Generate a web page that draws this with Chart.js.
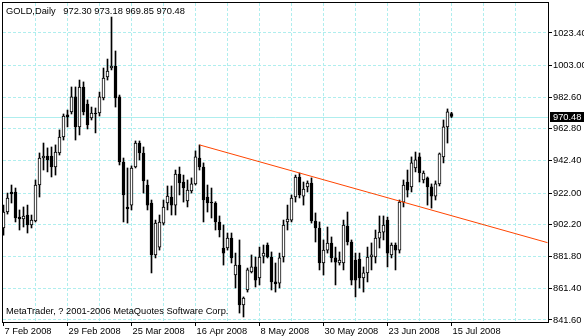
<!DOCTYPE html>
<html>
<head>
<meta charset="utf-8">
<title>GOLD Daily</title>
<script src="https://cdn.jsdelivr.net/npm/chart.js@4.4.1/dist/chart.umd.min.js"></script>
<style>
  html, body { margin: 0; padding: 0; background: #fff; }
  #chart { display: block; }
</style>
</head>
<body>
<canvas id="chart" width="584" height="336"></canvas>
<script>
// GOLD daily candles, 7 Feb 2008 .. 15 Jul 2008 (one entry per bar)
const symbol = 'GOLD';
const period = 'Daily';

const opens = [
    899.9, 910.0, 922.7, 922.7, 906.8, 905.6, 908.1, 901.8, 904.3, 927.1,
    944.2, 945.5, 945.5, 938.5, 947.4, 957.5, 971.5, 973.4, 982.9, 963.9,
    989.2, 978.4, 969.6, 972.7, 972.7, 982.2, 995.5, 1001.2, 1002.5, 982.9,
    941.7, 913.2, 914.4, 938.5, 953.7, 947.4, 927.1, 915.7, 882.8, 887.8,
    903.0, 915.7, 919.5, 914.4, 934.1, 929.0, 917.0, 923.3, 927.8, 944.2,
    938.5, 919.5, 916.3, 915.7, 903.7, 887.2, 887.2, 893.5, 870.1, 876.4,
    851.1, 860.6, 872.0, 875.2, 868.2, 882.1, 889.1, 881.5, 865.7, 865.0,
    881.5, 903.7, 904.9, 919.5, 932.2, 920.1, 925.9, 928.4, 904.3, 899.9,
    877.7, 885.9, 890.4, 880.9, 877.7, 877.7, 901.1, 891.0, 879.6, 880.2,
    868.2, 871.4, 881.5, 881.5, 893.5, 897.3, 904.9, 882.8, 889.1, 885.9,
    916.3, 929.0, 925.9, 937.9, 944.9, 930.3, 931.6, 925.9, 920.1, 927.8,
    944.9, 963.9, 972.30,
];
const highs = [
    914.4, 922.0, 927.1, 925.2, 911.3, 913.2, 914.4, 908.1, 930.3, 947.4,
    953.7, 950.6, 951.2, 952.5, 962.0, 972.1, 974.6, 989.2, 989.2, 993.6,
    992.4, 981.0, 976.5, 975.9, 986.0, 1001.2, 1006.9, 1033.5, 1012.0, 984.1,
    944.2, 937.9, 939.2, 955.0, 955.0, 951.2, 930.3, 917.6, 904.9, 908.1,
    917.6, 926.5, 926.5, 936.6, 938.5, 933.4, 930.3, 931.6, 948.7, 952.5,
    941.1, 927.1, 925.2, 916.5, 907.5, 901.8, 896.7, 896.7, 884.0, 892.3,
    856.2, 874.5, 882.8, 881.5, 887.8, 889.1, 890.4, 884.7, 877.7, 884.0,
    904.9, 914.4, 920.8, 933.4, 934.7, 929.0, 929.7, 931.6, 909.4, 903.7,
    892.3, 900.5, 894.2, 887.8, 884.7, 904.9, 910.0, 892.3, 884.0, 884.0,
    875.2, 887.8, 890.4, 898.6, 907.5, 907.5, 906.8, 890.4, 890.4, 917.6,
    930.3, 936.6, 944.9, 948.0, 947.4, 936.0, 932.2, 927.8, 929.7, 947.4,
    968.3, 975.3, 973.18,
];
const lows = [
    895.4, 908.7, 915.7, 903.7, 898.6, 900.5, 896.7, 899.9, 903.7, 919.5,
    936.6, 935.4, 932.2, 933.4, 946.1, 955.6, 963.9, 972.1, 955.6, 958.8,
    971.5, 962.6, 968.3, 960.1, 970.8, 981.0, 993.6, 1000.0, 976.5, 939.8,
    903.7, 903.0, 911.3, 937.9, 943.0, 922.0, 911.3, 871.4, 880.9, 885.9,
    901.8, 911.3, 908.1, 908.1, 920.8, 916.3, 913.2, 922.0, 927.1, 936.6,
    903.7, 910.0, 906.2, 898.6, 894.2, 876.4, 885.9, 877.7, 861.9, 846.0,
    843.5, 859.3, 871.4, 862.5, 863.8, 877.7, 880.9, 860.6, 859.3, 861.9,
    878.3, 898.6, 903.7, 916.3, 918.9, 914.4, 922.7, 903.0, 891.0, 873.3,
    870.1, 884.0, 878.3, 863.8, 876.4, 873.3, 889.1, 863.8, 856.2, 861.9,
    859.3, 865.7, 873.3, 877.7, 887.2, 892.3, 875.2, 880.9, 873.3, 884.0,
    913.2, 919.5, 922.7, 935.4, 929.0, 928.4, 914.4, 912.5, 917.6, 926.5,
    941.1, 953.7, 969.85,
];
const closes = [
    910.0, 918.9, 921.4, 906.2, 905.6, 907.5, 901.8, 904.9, 927.1, 944.2,
    945.5, 943.0, 938.5, 948.0, 957.5, 970.8, 970.2, 982.9, 963.9, 989.2,
    973.4, 965.1, 972.7, 972.1, 982.9, 994.9, 999.3, 1002.5, 982.2, 941.7,
    920.8, 911.9, 937.9, 953.7, 947.4, 929.7, 914.4, 882.8, 903.0, 903.7,
    913.2, 920.1, 914.4, 934.1, 928.4, 925.2, 923.9, 927.8, 944.9, 938.5,
    917.6, 915.7, 915.7, 903.7, 898.6, 884.0, 893.5, 880.9, 876.4, 851.1,
    855.5, 873.3, 875.2, 866.9, 881.5, 884.0, 881.5, 865.7, 864.4, 880.9,
    901.8, 905.6, 918.9, 932.2, 920.8, 924.6, 928.4, 904.3, 899.9, 877.7,
    885.9, 890.4, 880.9, 878.3, 879.6, 901.8, 891.0, 866.9, 866.9, 868.2,
    871.4, 881.5, 882.8, 893.5, 897.3, 901.8, 884.0, 889.1, 885.9, 916.3,
    927.1, 923.9, 941.1, 943.0, 934.7, 934.7, 925.9, 920.1, 927.8, 946.8,
    963.9, 973.4, 970.48,
];

// x axis: bar index of each date label
const dateTickBars = [0, 16, 32, 48, 64, 80, 96, 112];
const dateTickLabels = ['7 Feb 2008', '29 Feb 2008', '25 Mar 2008', '16 Apr 2008',
    '8 May 2008', '30 May 2008', '23 Jun 2008', '15 Jul 2008'];
const priceTicks = [841.6, 861.4, 881.8, 902.2, 922.0, 942.4, 962.8, 982.6, 1003.0, 1023.4];

// trend line anchors (bar index, price), runs to the right edge
const trendBars = [49, 136];
const trendPrices = [952.5, 890.6];

const GRID_COLOR = '#afeeee';
const TREND_COLOR = '#ff4500';
const FONT = { family: '"Liberation Sans", Arial, sans-serif', size: 9.3 };
const FONT_CSS = '9.3px "Liberation Sans", Arial, sans-serif';

const X_MIN = -0.125;
const X_MAX = 136.125;
const Y_MIN = 840.33;
const Y_MAX = 1042.40;
const GRID_STEP = 8;

const last = closes.length - 1;
const wicks = lows.map((lo, i) => ({ x: i, y: [lo, highs[i]] }));
const bodies = opens.map((o, i) => ({ x: i, y: [o, closes[i]] }));
const bodyFill = opens.map((o, i) => (closes[i] >= o ? '#ffffff' : '#000000'));

const gridTicks = [];
for (let b = 0; b <= X_MAX; b += GRID_STEP) gridTicks.push({ value: b });

const hidden = 'rgba(0,0,0,0)';

// frame, bid line, title, copyright and the last price box
const terminalChrome = {
    id: 'terminalChrome',
    beforeDatasetsDraw(chart) {
        const { ctx, chartArea: a, scales: { y } } = chart;
        const yy = Math.round(y.getPixelForValue(closes[last])) + 0.5;
        ctx.save();
        ctx.strokeStyle = GRID_COLOR;
        ctx.lineWidth = 1;
        ctx.beginPath();
        ctx.moveTo(a.left, yy);
        ctx.lineTo(a.right, yy);
        ctx.stroke();
        ctx.restore();
    },
    afterDraw(chart) {
        const { ctx, chartArea: a, scales: { y } } = chart;
        ctx.save();
        ctx.strokeStyle = '#000';
        ctx.lineWidth = 1;
        ctx.strokeRect(a.left - 0.5, a.top - 0.5, a.right - a.left + 1, a.bottom - a.top + 1);

        ctx.font = FONT_CSS;
        ctx.fillStyle = '#000';
        ctx.textBaseline = 'alphabetic';
        const ohlc = [opens[last], highs[last], lows[last], closes[last]].map(v => v.toFixed(2)).join(' ');
        ctx.fillText(`${symbol},${period}   ${ohlc}`, 6, 14);
        ctx.fillText('MetaTrader, ? 2001-2006 MetaQuotes Software Corp.', 6, 314);

        const yy = Math.round(y.getPixelForValue(closes[last]));
        ctx.fillStyle = '#000';
        ctx.fillRect(a.right + 2, yy - 5, 584 - a.right - 2, 10);
        ctx.fillStyle = '#fff';
        ctx.textBaseline = 'middle';
        ctx.fillText(closes[last].toFixed(2), a.right + 5, yy + 0.5);
        ctx.restore();
    },
};

new Chart(document.getElementById('chart'), {
    type: 'bar',
    data: {
        datasets: [
            {
                type: 'bar',
                label: 'wick',
                data: wicks,
                backgroundColor: '#000000',
                borderWidth: 0,
                barThickness: 1,
                grouped: false,
                order: 3,
            },
            {
                type: 'bar',
                label: 'body',
                data: bodies,
                backgroundColor: bodyFill,
                borderColor: '#000000',
                borderWidth: 1,
                borderSkipped: false,
                barThickness: 3,
                minBarLength: 1,
                grouped: false,
                order: 2,
            },
            {
                type: 'line',
                label: 'trend',
                data: trendBars.map((b, i) => ({ x: b, y: trendPrices[i] })),
                borderColor: TREND_COLOR,
                borderWidth: 1,
                pointRadius: 0,
                fill: false,
                order: 1,
            },
        ],
    },
    options: {
        responsive: false,
        animation: false,
        devicePixelRatio: 1,
        layout: { autoPadding: false, padding: { left: 3, top: 3, right: 0, bottom: 0 } },
        plugins: {
            legend: { display: false },
            tooltip: { enabled: false },
        },
        scales: {
            x: {
                type: 'linear',
                min: X_MIN,
                max: X_MAX,
                offset: false,
                afterBuildTicks: scale => { scale.ticks = gridTicks.map(t => ({ value: t.value })); },
                afterFit: scale => {
                    scale.height = 14;
                    scale.paddingLeft = 0;
                    scale.paddingRight = 0;
                },
                grid: {
                    offset: false,
                    color: ctx => (ctx.tick && (ctx.tick.value <= 0 || ctx.tick.value >= 136) ? hidden : GRID_COLOR),
                    tickLength: 4,
                    tickColor: ctx => (ctx.tick && dateTickBars.includes(ctx.tick.value) ? '#000' : hidden),
                },
                border: { display: false, dash: [3, 2] },
                ticks: {
                    autoSkip: false,
                    maxRotation: 0,
                    align: 'start',
                    labelOffset: 1,
                    padding: 0,
                    color: '#000',
                    font: FONT,
                    callback: v => {
                        const k = dateTickBars.indexOf(v);
                        return k >= 0 ? dateTickLabels[k] : '';
                    },
                },
            },
            y: {
                type: 'linear',
                position: 'right',
                min: Y_MIN,
                max: Y_MAX,
                afterBuildTicks: scale => { scale.ticks = priceTicks.map(v => ({ value: v })); },
                afterFit: scale => {
                    scale.width = 36;
                    scale.paddingTop = 0;
                    scale.paddingBottom = 0;
                },
                grid: { color: GRID_COLOR, tickLength: 4, tickColor: '#000' },
                border: { display: false, dash: [3, 2] },
                ticks: {
                    padding: 1,
                    color: '#000',
                    font: FONT,
                    callback: v => Number(v).toFixed(2),
                },
            },
        },
    },
    plugins: [terminalChrome],
});
</script>
</body>
</html>
